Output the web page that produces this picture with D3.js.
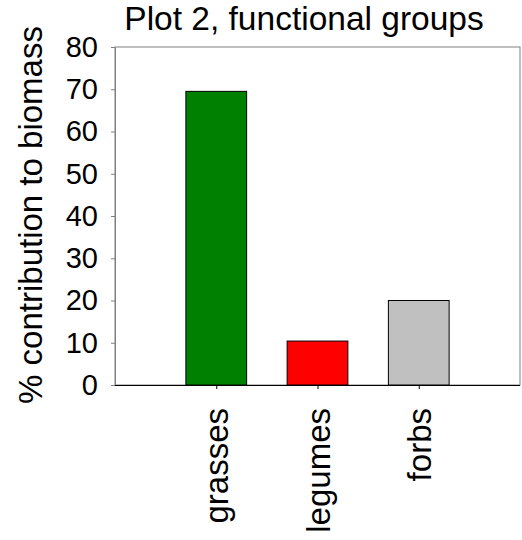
<!DOCTYPE html>
<html><head><meta charset="utf-8">
<script src="https://cdn.jsdelivr.net/npm/d3@7"></script>
<style>body{margin:0;background:#fff}svg{display:block}text{font-family:Arial,"Liberation Sans",sans-serif;fill:#000}</style>
</head><body>
<script>
const categories = ["grasses", "legumes", "forbs"];
const values = [69.5, 10.4, 20.0];
const colors = ["#008000", "#ff0000", "#c0c0c0"];
const yTicks = [0, 10, 20, 30, 40, 50, 60, 70, 80];
const title = "Plot 2, functional groups";
const yLabel = "% contribution to biomass";

const W = 522, H = 540;
const m = {left: 115, right: 2, top: 47, bottom: 155};
const svg = d3.select("body").append("svg").attr("width", W).attr("height", H);

const x = d3.scaleLinear().domain([0, categories.length + 1]).range([m.left, W - m.right]);
const y = d3.scaleLinear().domain([0, 80]).range([H - m.bottom, m.top]);
const slot = x(1) - x(0);
const bw = slot * 0.6;

// frame
svg.append("rect").attr("x", x(0)).attr("y", y(80)).attr("width", x(4) - x(0)).attr("height", y(0) - y(80))
  .attr("fill", "none").attr("stroke", "#808080").attr("stroke-width", 1);

// bars
svg.selectAll("rect.bar").data(values).join("rect").attr("class", "bar")
  .attr("x", (d, i) => x(i + 1) - bw / 2)
  .attr("y", d => y(d))
  .attr("width", bw)
  .attr("height", d => y(0) - y(d))
  .attr("fill", (d, i) => colors[i])
  .attr("stroke", "#000").attr("stroke-width", 1);

// y axis
const ya = svg.append("g").attr("transform", `translate(${x(0)},0)`)
  .call(d3.axisLeft(y).tickValues(yTicks).tickSize(4).tickPadding(13).tickSizeOuter(0));
ya.select(".domain").attr("stroke", "#808080");
ya.selectAll(".tick line").attr("stroke", "#808080");
ya.selectAll(".tick text").style("font-size", "29px").attr("font-family", "Arial, 'Liberation Sans', sans-serif");

// x axis
const xa = svg.append("g").attr("transform", `translate(0,${y(0)})`)
  .call(d3.axisBottom(x).tickValues([1, 2, 3]).tickFormat((d) => categories[d - 1]).tickSize(4).tickSizeOuter(0));
xa.select(".domain").attr("stroke", "#000").attr("d", `M${x(0)},0.5H${x(4)}`);
xa.selectAll(".tick line").attr("stroke", "#000");
xa.selectAll(".tick text")
  .style("font-size", "33px").attr("font-family", "Arial, 'Liberation Sans', sans-serif")
  .attr("text-anchor", "end")
  .attr("transform", "rotate(-90)")
  .attr("x", -23).attr("y", 0).attr("dy", "0.35em");

// title
svg.append("text").attr("x", 304).attr("y", 30).attr("text-anchor", "middle")
  .style("font-size", "33.5px").text(title);

// y label
svg.append("text").attr("transform", `translate(42,215) rotate(-90)`).attr("text-anchor", "middle")
  .style("font-size", "33px").text(yLabel);
</script>
</body></html>
